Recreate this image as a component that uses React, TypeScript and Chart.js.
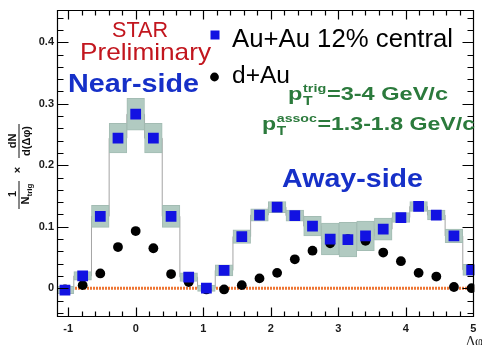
import { useEffect, useRef } from "react";
import { Chart, registerables } from "chart.js";

Chart.register(...registerables);

// ---- data ----
const binCenters = [-1.047, -0.785, -0.524, -0.262, 0.0, 0.262, 0.524, 0.785, 1.047, 1.309, 1.571, 1.833, 2.094, 2.356, 2.618, 2.88, 3.142, 3.403, 3.665, 3.927, 4.189, 4.451, 4.712, 4.974];
const auAuValues = [-0.003, 0.02, 0.117, 0.244, 0.283, 0.244, 0.117, 0.018, 0.0, 0.029, 0.084, 0.119, 0.132, 0.118, 0.101, 0.08, 0.079, 0.085, 0.096, 0.115, 0.133, 0.119, 0.085, 0.03];
const auAuSyst = [0.006, 0.007, 0.018, 0.024, 0.026, 0.024, 0.018, 0.007, 0.005, 0.009, 0.011, 0.01, 0.009, 0.009, 0.016, 0.026, 0.028, 0.024, 0.018, 0.008, 0.008, 0.008, 0.011, 0.009];
const dAuValues = [-0.002, 0.005, 0.024, 0.067, 0.093, 0.065, 0.023, 0.01, -0.002, -0.002, 0.005, 0.016, 0.025, 0.047, 0.061, 0.073, 0.08, 0.077, 0.058, 0.044, 0.025, 0.019, 0.002, 0.0];

const xTickValues = [-1, 0, 1, 2, 3, 4, 5];
const xTickLabels = ["-1", "0", "1", "2", "3", "4", "5"];
const yTickValues = [0, 0.1, 0.2, 0.3, 0.4];
const yTickLabels = ["0", "0.1", "0.2", "0.3", "0.4"];
const legendLabels = ["Au+Au 12% central", "d+Au"];
const zeroLineX = [-1.165, 5.015];

const X_MIN = -1.165;
const X_MAX = 5.015;
const Y_MIN = -0.0468;
const Y_MAX = 0.4525;

const FONT = "'Liberation Sans', Arial, sans-serif";
const BLUE_MARK = "#1212e2";
const TEXT_BLUE = "#1630c8";
const RED = "#c2161e";
const GREEN = "#2b7a3c";
const BOX_FILL = "#b1cac1";
const BOX_BORDER = "#a3bcb3";
const ORANGE = "#ee7634";

function findLabel(values: number[], labels: string[], v: number) {
  const i = values.findIndex((t) => Math.abs(t - v) < 1e-9);
  return i >= 0 ? labels[i] : "";
}

function drawFit(
  ctx: CanvasRenderingContext2D,
  text: string,
  left: number,
  baseline: number,
  width: number,
  font: string,
  color: string
) {
  ctx.save();
  ctx.font = font;
  ctx.fillStyle = color;
  ctx.textAlign = "left";
  ctx.textBaseline = "alphabetic";
  const w = ctx.measureText(text).width;
  ctx.translate(left, baseline);
  ctx.scale(width / w, 1);
  ctx.fillText(text, 0, 0);
  ctx.restore();
}

function drawSubSup(
  ctx: CanvasRenderingContext2D,
  left: number,
  baseline: number,
  width: number,
  base: string,
  sub: string,
  sup: string,
  rest: string,
  mainSize: number,
  color: string
) {
  const mainFont = `bold ${mainSize}px ${FONT}`;
  const subFont = `bold ${Math.round(mainSize * 0.68)}px ${FONT}`;
  const supFont = `bold ${Math.round(mainSize * 0.6)}px ${FONT}`;
  ctx.save();
  ctx.fillStyle = color;
  ctx.textAlign = "left";
  ctx.textBaseline = "alphabetic";
  ctx.font = mainFont;
  const wBase = ctx.measureText(base).width;
  const wRest = ctx.measureText(rest).width;
  ctx.font = subFont;
  const wSub = ctx.measureText(sub).width;
  ctx.font = supFont;
  const wSup = ctx.measureText(sup).width;
  const xScript = wBase + 0.5;
  const xRest = xScript + Math.max(wSub, wSup) + 0.5;
  const total = xRest + wRest;
  ctx.translate(left, baseline);
  ctx.scale(width / total, 1);
  ctx.font = mainFont;
  ctx.fillText(base, 0, 0);
  ctx.fillText(rest, xRest, 0);
  ctx.font = subFont;
  ctx.fillText(sub, xScript, mainSize * 0.28);
  ctx.font = supFont;
  ctx.fillText(sup, xScript, -mainSize * 0.45);
  ctx.restore();
}

function drawYTitle(ctx: CanvasRenderingContext2D) {
  ctx.save();
  ctx.translate(19, 0);
  ctx.rotate(-Math.PI / 2);
  // in this frame: u = -screenY (text direction), v = screenX - 19
  ctx.fillStyle = "#111";
  ctx.strokeStyle = "#111";
  ctx.lineWidth = 1;
  ctx.textBaseline = "middle";
  ctx.textAlign = "center";
  const f = `bold 11px ${FONT}`;
  const fs = `bold 8px ${FONT}`;
  // 1 / N_trig
  ctx.font = f;
  ctx.fillText("1", -194, -6);
  ctx.beginPath();
  ctx.moveTo(-209, 0);
  ctx.lineTo(-181, 0);
  ctx.stroke();
  ctx.textAlign = "left";
  ctx.font = f;
  const wN = ctx.measureText("N").width;
  ctx.font = fs;
  const wTrig = ctx.measureText("trig").width;
  const start = -194 - (wN + wTrig) / 2;
  ctx.font = f;
  ctx.fillText("N", start, 7);
  ctx.font = fs;
  ctx.fillText("trig", start + wN, 10.5);
  // ×
  ctx.textAlign = "center";
  ctx.font = f;
  ctx.fillText("\u00d7", -170, -1);
  // dN / d(Δφ)
  ctx.fillText("dN", -141, -6);
  ctx.beginPath();
  ctx.moveTo(-158, 0);
  ctx.lineTo(-124, 0);
  ctx.stroke();
  ctx.fillText("d(\u0394\u03c6)", -141, 8);
  ctx.restore();
}

const rootStylePlugin = {
  id: "rootStyle",
  afterDatasetsDraw(chart: any) {
    const { ctx, chartArea: a, scales } = chart;
    const xs = scales.x;
    const ys = scales.y;
    const L = Math.round(a.left) + 0.5;
    const R = Math.round(a.right) - 0.5;
    const T = Math.round(a.top) + 0.5;
    const B = Math.round(a.bottom) - 0.5;
    ctx.save();
    ctx.strokeStyle = "#000";
    ctx.lineWidth = 1.2;
    ctx.beginPath();
    ctx.rect(L, T, R - L, B - T);
    for (let i = -6; i <= 26; i++) {
      const v = i * 0.2;
      if (v < X_MIN || v > X_MAX) continue;
      const px = Math.round(xs.getPixelForValue(v)) + 0.5;
      const len = i % 5 === 0 ? 9 : 5;
      ctx.moveTo(px, B);
      ctx.lineTo(px, B - len);
      ctx.moveTo(px, T);
      ctx.lineTo(px, T + len);
    }
    for (let i = -2; i <= 22; i++) {
      const v = i * 0.02;
      if (v < Y_MIN || v > Y_MAX) continue;
      const py = Math.round(ys.getPixelForValue(v)) + 0.5;
      const len = i % 5 === 0 ? 11 : 6;
      ctx.moveTo(L, py);
      ctx.lineTo(L + len, py);
      ctx.moveTo(R, py);
      ctx.lineTo(R - len, py);
    }
    ctx.stroke();
    ctx.restore();
  },
  afterDraw(chart: any) {
    const { ctx } = chart;
    // labels
    drawFit(ctx, "STAR", 112, 37, 56, `22px ${FONT}`, RED);
    drawFit(ctx, "Preliminary", 80, 60, 131, `24px ${FONT}`, RED);
    drawFit(ctx, "Near-side", 68, 92, 131, `bold 26px ${FONT}`, TEXT_BLUE);
    drawFit(ctx, "Away-side", 282, 186.5, 141, `bold 26px ${FONT}`, TEXT_BLUE);
    // legend
    ctx.save();
    ctx.fillStyle = BLUE_MARK;
    ctx.fillRect(210.5, 30.5, 9, 9);
    ctx.fillStyle = "#000";
    ctx.beginPath();
    ctx.arc(214.5, 77, 4.4, 0, Math.PI * 2);
    ctx.fill();
    ctx.restore();
    drawFit(ctx, legendLabels[0], 232, 46.5, 221, `25px ${FONT}`, "#000");
    drawFit(ctx, legendLabels[1], 232, 83, 58, `23px ${FONT}`, "#000");
    // green kinematics
    drawSubSup(ctx, 288, 100, 160, "p", "T", "trig", "=3-4 GeV/c", 18, GREEN);
    drawSubSup(ctx, 262, 130, 213, "p", "T", "assoc", "=1.3-1.8 GeV/c", 18, GREEN);
    // axis titles
    drawYTitle(ctx);
    ctx.save();
    ctx.font = `14px 'Liberation Serif', serif`;
    ctx.fillStyle = "#222";
    ctx.textAlign = "left";
    ctx.textBaseline = "alphabetic";
    ctx.fillText("\u0394\u03c6", 466, 346);
    ctx.restore();
  },
};

export default function App() {
  const canvasRef = useRef<HTMLCanvasElement | null>(null);

  useEffect(() => {
    const canvas = canvasRef.current;
    if (!canvas) return;
    const auAuPoints = binCenters.map((x, i) => ({ x, y: auAuValues[i] }));
    const dAuPoints = binCenters.map((x, i) => ({ x, y: dAuValues[i] }));
    const systBoxes = binCenters.map((x, i) => ({
      x,
      y: [auAuValues[i] - auAuSyst[i], auAuValues[i] + auAuSyst[i]],
    }));
    const zeroLine = zeroLineX.map((x) => ({ x, y: 0 }));

    const chart = new Chart(canvas, {
      type: "bar",
      data: {
        datasets: [
          {
            type: "scatter",
            label: legendLabels[0],
            data: auAuPoints,
            pointStyle: "rect",
            pointRadius: 7.6,
            backgroundColor: BLUE_MARK,
            borderWidth: 0,
            order: 0,
          } as any,
          {
            type: "scatter",
            label: legendLabels[1],
            data: dAuPoints,
            pointStyle: "circle",
            pointRadius: 4.9,
            backgroundColor: "#000",
            borderWidth: 0,
            order: 1,
          } as any,
          {
            type: "bar",
            label: "syst",
            data: systBoxes,
            backgroundColor: BOX_FILL,
            borderColor: BOX_BORDER,
            borderWidth: 1,
            borderSkipped: false,
            barPercentage: 1,
            categoryPercentage: 1,
            order: 2,
          } as any,
          {
            type: "line",
            label: "hist",
            data: auAuPoints,
            stepped: "middle",
            borderColor: "#a4a4a4",
            borderWidth: 1,
            pointRadius: 0,
            fill: false,
            order: 3,
          } as any,
          {
            type: "line",
            label: "zero",
            data: zeroLine,
            borderColor: ORANGE,
            borderWidth: 3,
            borderDash: [2, 1],
            pointRadius: 0,
            fill: false,
            order: 4,
          } as any,
        ],
      },
      options: {
        animation: false,
        responsive: false,
        events: [],
        layout: { padding: { top: 10, right: 6, left: 0, bottom: 0 } },
        plugins: {
          legend: { display: false },
          tooltip: { enabled: false },
        },
        scales: {
          x: {
            type: "linear",
            min: X_MIN,
            max: X_MAX,
            offset: false,
            afterBuildTicks: (s: any) => {
              s.ticks = xTickValues.map((v) => ({ value: v }));
            },
            afterFit: (s: any) => {
              s.height = 28;
            },
            grid: { display: false, drawTicks: false },
            border: { display: false },
            ticks: {
              autoSkip: false,
              maxRotation: 0,
              padding: 5,
              color: "#1a1a1a",
              font: { family: FONT, size: 11, weight: "bold" },
              callback: (v: any) => findLabel(xTickValues, xTickLabels, Number(v)),
            },
          },
          y: {
            type: "linear",
            min: Y_MIN,
            max: Y_MAX,
            afterBuildTicks: (s: any) => {
              s.ticks = yTickValues.map((v) => ({ value: v }));
            },
            afterFit: (s: any) => {
              s.width = 57;
            },
            grid: { display: false, drawTicks: false },
            border: { display: false },
            ticks: {
              autoSkip: false,
              padding: 3,
              color: "#1a1a1a",
              font: { family: FONT, size: 11, weight: "bold" },
              callback: (v: any) => findLabel(yTickValues, yTickLabels, Number(v)),
            },
          },
        },
      } as any,
      plugins: [rootStylePlugin as any],
    });
    return () => chart.destroy();
  }, []);

  return (
    <div style={{ position: "absolute", left: 0, top: 0, width: 482, height: 345, background: "#fff" }}>
      <canvas ref={canvasRef} width={482} height={345} style={{ width: 482, height: 345, display: "block" }} />
    </div>
  );
}
